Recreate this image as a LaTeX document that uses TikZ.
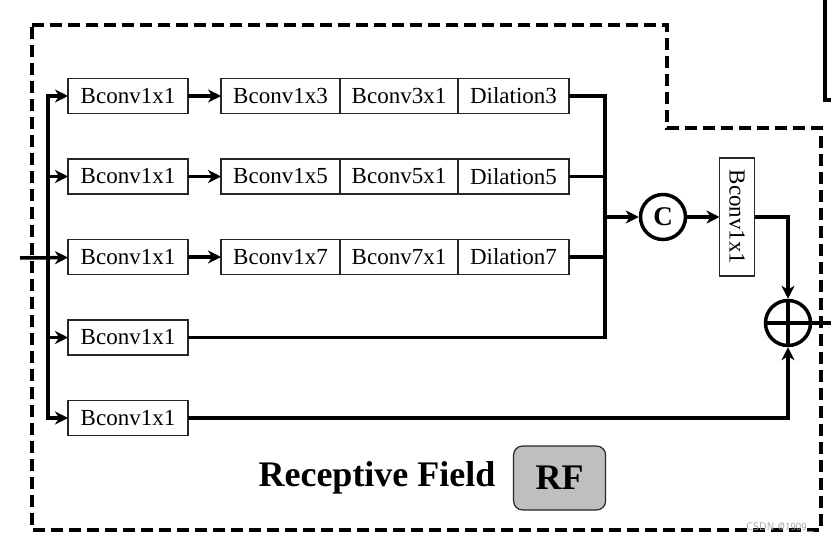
\documentclass[tikz,border=0pt]{standalone}
\usepackage{fontspec}
\setmainfont{Liberation Serif}
\usetikzlibrary{positioning,arrows.meta}
\tikzstyle{block} = [rectangle, draw=black!85, line width=1.2pt, outer sep=0pt,
    inner sep=0pt, minimum width=120pt, minimum height=35pt, text centered,
    fill=white, font=\fontsize{23}{25}\selectfont]
\tikzstyle{line} = [line width=3.5pt]
\tikzstyle{arrow} = [line width=3.5pt, -{Stealth[length=13pt,width=13pt,inset=4pt]}]
\tikzstyle{frame} = [line width=4pt, dash pattern=on 12pt off 6pt]
\tikzstyle{op} = [circle, draw, line width=3.5pt, minimum size=45pt, inner sep=0pt]

\begin{document}
\begin{tikzpicture}[x=1pt, y=-1pt, node distance=80.5pt]
    \useasboundingbox (0,0) rectangle (831,544);
    % outline of the module
    \draw[frame] (32,25) -- (667,25) -- (667,128) -- (821,128) -- (821,530) -- (32,530) -- cycle;
    \draw[line] (825,0) -- (825,100) -- (831,100);
        \node (b1) [block] at (128,96) {Bconv1x1};
        \node (b2) [block, below of=b1] {Bconv1x1};
        \node (b3) [block, below of=b2] {Bconv1x1};
        \node (b4) [block, below of=b3] {Bconv1x1};
        \node (b5) [block, below of=b4] {Bconv1x1};
        % dilated branches
        \node (k13) [block, minimum width=119pt, right=33pt of b1] {Bconv1x3};
        \node (k31) [block, minimum width=118pt, right=0pt of k13] {Bconv3x1};
        \node (d3) [block, minimum width=111pt, right=0pt of k31] {Dilation3};
        \node (k15) [block, minimum width=119pt, right=33pt of b2] {Bconv1x5};
        \node (k51) [block, minimum width=118pt, right=0pt of k15] {Bconv5x1};
        \node (d5) [block, minimum width=111pt, right=0pt of k51] {Dilation5};
        \node (k17) [block, minimum width=119pt, right=33pt of b3] {Bconv1x7};
        \node (k71) [block, minimum width=118pt, right=0pt of k17] {Bconv7x1};
        \node (d7) [block, minimum width=111pt, right=0pt of k71] {Dilation7};
        \node (cat) [op, font=\bfseries\fontsize{27}{29}\selectfont] at (663,217) {C};
        \node (fuse) [block, rotate=-90, minimum width=118pt] at (737,217) {Bconv1x1};
        \node (sum) [op] at (788,323) {};
        \coordinate (in) at (20,258);
        \coordinate (bus) at (48,258);
        \coordinate (rbus) at (605,217);
        \coordinate (out) at (831,323);
        % input split
        \draw [arrow] (bus) |- (b1);
        \draw [arrow] (bus) |- (b5);
        \draw [arrow] (bus |- b2) -- (b2);
        \draw [arrow] (bus |- b4) -- (b4);
        \draw [arrow] (in) -- (b3);
        \draw [arrow] (b1) -- (k13);
        \draw [arrow] (b2) -- (k15);
        \draw [arrow] (b3) -- (k17);
        % concatenation
        \draw [line] (d3) -| (rbus);
        \draw [line] (b4) -| (rbus);
        \draw [line] (d5) -- (d5 -| rbus);
        \draw [line] (d7) -- (d7 -| rbus);
        \draw [arrow] (rbus) -- (cat);
        \draw [arrow] (cat) -- (fuse);
        % residual sum
        \draw [arrow] (fuse.north) -| (sum);
        \draw [arrow] (b5) -| (sum);
        \draw [line] (sum.north) -- (sum.south);
        \draw [line] (sum.west) -- (sum.east);
        \draw [line] (sum) -- (out);
        \node (title) [font=\bfseries\fontsize{36}{40}\selectfont] at (377,478) {Receptive Field};
        \node (rf) [right=14pt of title, rectangle, rounded corners=9pt, draw=black!85,
            line width=1.2pt, fill=black!25, minimum width=92pt, minimum height=64pt,
            font=\bfseries\fontsize{36}{40}\selectfont] {RF};
        \node (mark) [text=black!35, font=\sffamily\fontsize{11}{12}\selectfont] at (780,527) {CSDN @1909\_};
    \end{tikzpicture}
\end{document}
